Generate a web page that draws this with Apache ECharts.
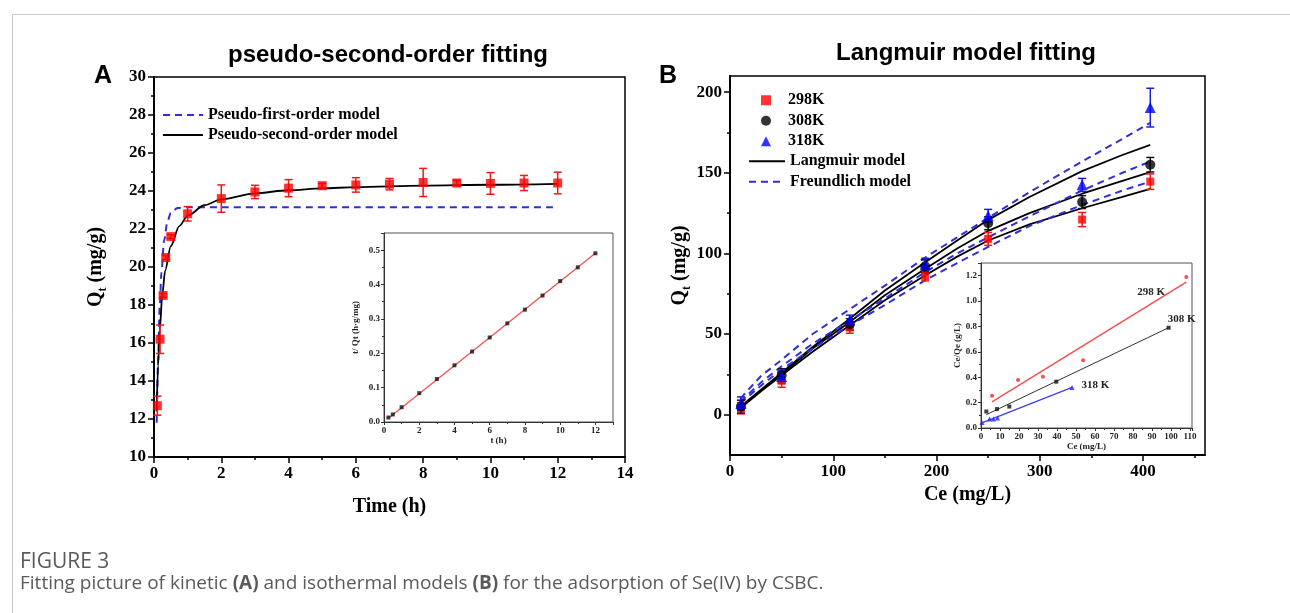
<!DOCTYPE html>
<html>
<head>
<meta charset="utf-8">
<title>Figure 3 - kinetic and isotherm fitting</title>
<script src="https://cdn.jsdelivr.net/npm/echarts@6/dist/echarts.min.js"></script>
<style>
  html, body { margin: 0; padding: 0; background: #fff; }
  #chart { width: 1290px; height: 613px; }
</style>
</head>
<body>
<div id="chart"></div>
<script>
// ---------- panel A : kinetics ----------
var timeA = [0.1, 0.18, 0.27, 0.35, 0.5, 1, 2, 3, 4, 5, 6, 7, 8, 9, 10, 11, 12];
var qtA = [12.7, 16.2, 18.5, 20.5, 21.6, 22.8, 23.6, 23.95, 24.15, 24.28, 24.32, 24.36, 24.45, 24.42, 24.4, 24.42, 24.42];
var errA = [0.5, 0.75, 0.1, 0.1, 0.1, 0.38, 0.72, 0.35, 0.45, 0.12, 0.38, 0.3, 0.74, 0.15, 0.57, 0.4, 0.57];

// fitted curves
var pfoT = [0.08, 0.12, 0.17, 0.22, 0.3, 0.4, 0.5, 0.7, 1, 2, 4, 6, 8, 10, 12];
var pfoQ = [11.8, 15.0, 17.9, 19.7, 21.4, 22.4, 22.85, 23.1, 23.15, 23.15, 23.15, 23.15, 23.15, 23.15, 23.15];
var psoT = [0.08, 0.12, 0.17, 0.25, 0.33, 0.5, 0.75, 1, 1.5, 2, 3, 4, 5, 6, 8, 10, 12];
var psoQ = [12.4, 14.8, 16.7, 18.6, 19.8, 21.1, 22.15, 22.7, 23.25, 23.56, 23.88, 24.04, 24.14, 24.2, 24.28, 24.33, 24.38];

// inset A : t/Qt vs t
var tInset = [0.25, 0.5, 1, 2, 3, 4, 5, 6, 7, 8, 9, 10, 11, 12];
var tOverQ = [0.013, 0.022, 0.043, 0.084, 0.125, 0.165, 0.205, 0.246, 0.287, 0.327, 0.368, 0.41, 0.45, 0.491];
var tFitX = [0.25, 12];
var tFitY = [0.011, 0.491];

// ---------- panel B : isotherms ----------
var ceB = [10.6, 50, 116, 189, 250, 341, 407];
var q298 = [4, 21, 54, 86, 109, 121, 144.5];
var q308 = [5, 24.5, 56, 92, 118.7, 131.8, 155];
var q318 = [7, 23.6, 58.7, 93, 123.3, 142.5, 190.4];
var e298 = [3.5, 4, 3.5, 3, 4, 4.4, 4.8];
var e308 = [4, 4, 3.5, 4, 4, 4, 4.5];
var e318 = [4, 4, 3, 4, 4, 4, 12];

var fitCe = [10, 30, 50, 80, 115, 150, 188, 220, 250, 290, 341, 380, 407];
var lang298 = [4, 14.5, 24.5, 39, 55, 71, 86, 98, 108, 118, 128, 135, 140];
var lang308 = [4.5, 15, 25, 41, 57, 74, 90, 103, 114, 125, 137, 145, 150.4];
var lang318 = [5, 15.5, 26, 42, 59, 77, 94, 108, 120.8, 135, 151, 161, 167.3];
var freu298 = [7, 18, 28, 41, 55, 68, 83, 94, 104, 117, 130, 139, 144.5];
var freu308 = [8, 20, 30, 44, 58, 72, 88, 100, 110, 123, 139, 150, 157];
var freu318 = [10, 24, 34, 50, 65, 80, 97, 110, 122, 138, 157, 171, 181];

// inset B : Ce/Qe vs Ce
var inCe298 = [5.8, 19.5, 32.6, 53.7, 108];
var inR298 = [0.255, 0.378, 0.404, 0.534, 1.19];
var inCe308 = [2.8, 8.4, 14.9, 39.6, 98.7];
var inR308 = [0.13, 0.149, 0.169, 0.365, 0.79];
var inCe318 = [0.5, 4.5, 6.6, 8.7, 47.9];
var inR318 = [0.044, 0.07, 0.07, 0.078, 0.32];
var inFit298 = [[5.8, 0.205], [108, 1.15]];
var inFit308 = [[2.8, 0.105], [98.7, 0.79]];
var inFit318 = [[0.5, 0.04], [47.9, 0.32]];

var SERIF = '"Liberation Serif", "Times New Roman", serif';
var SANS = '"Liberation Sans", Arial, sans-serif';
var BLUE = '#2f2fd8';

function pairs(xs, ys) {
  return xs.map(function (x, i) { return [x, ys[i]]; });
}
function triples(xs, ys, es) {
  return xs.map(function (x, i) { return [x, ys[i], es[i]]; });
}

// vertical error bar with caps
function errorBars(color, cap, lw) {
  return function (params, api) {
    var x = api.value(0), y = api.value(1), e = api.value(2);
    var hi = api.coord([x, y + e]);
    var lo = api.coord([x, y - e]);
    var st = { stroke: color, lineWidth: lw };
    return {
      type: 'group',
      children: [
        { type: 'line', shape: { x1: hi[0], y1: hi[1], x2: lo[0], y2: lo[1] }, style: st },
        { type: 'line', shape: { x1: hi[0] - cap, y1: hi[1], x2: hi[0] + cap, y2: hi[1] }, style: st },
        { type: 'line', shape: { x1: lo[0] - cap, y1: lo[1], x2: lo[0] + cap, y2: lo[1] }, style: st }
      ]
    };
  };
}

function mainAxis(o) {
  var a = {
    type: 'value',
    splitLine: { show: false },
    axisLine: { show: true, onZero: false, lineStyle: { color: '#000', width: 2 } },
    axisTick: { show: true, inside: false, length: 6, lineStyle: { color: '#000', width: 1.5 } },
    axisLabel: { fontFamily: SERIF, fontWeight: 'bold', fontSize: 17, color: '#000', margin: 8 },
    nameLocation: 'middle',
    nameTextStyle: { fontFamily: SERIF, fontWeight: 'bold', fontSize: 20, color: '#000' }
  };
  return Object.assign(a, o);
}

function insetAxis(o) {
  var a = {
    type: 'value',
    splitLine: { show: false },
    axisLine: { show: true, onZero: false, lineStyle: { color: '#333', width: 1 } },
    axisTick: { show: true, inside: false, length: 3, lineStyle: { color: '#333', width: 1 } },
    minorTick: { show: true, splitNumber: 2, length: 2, lineStyle: { color: '#333', width: 1 } },
    axisLabel: { fontFamily: SERIF, fontWeight: 'bold', fontSize: 9, color: '#222', margin: 4, showMaxLabel: false },
    nameLocation: 'middle',
    nameTextStyle: { fontFamily: SERIF, fontWeight: 'bold', fontSize: 9, color: '#222' }
  };
  return Object.assign(a, o);
}

// minor-tick-only axis (for axes whose range is not a multiple of the step)
function tickAxis(o) {
  var a = {
    type: 'value',
    splitLine: { show: false },
    axisLine: { show: false, onZero: false },
    axisLabel: { show: false }
  };
  return Object.assign(a, o);
}

var chart = echarts.init(document.getElementById('chart'));

var lineLegendStyle = { color: 'rgba(0,0,0,0)', opacity: 0, borderWidth: 0 };

var option = {
  backgroundColor: '#fff',
  animation: false,
  grid: [
    { left: 154, top: 77, width: 471, height: 380, show: true, borderColor: '#000', borderWidth: 1.5, backgroundColor: '#fff' },
    { left: 384, top: 233, width: 229, height: 189, show: true, borderColor: '#555', borderWidth: 1, backgroundColor: '#fff', z: 5 },
    { left: 730, top: 76, width: 475, height: 379, show: true, borderColor: '#000', borderWidth: 1.5, backgroundColor: '#fff' },
    { left: 981, top: 263, width: 211, height: 165, show: true, borderColor: '#555', borderWidth: 1, backgroundColor: '#fff', z: 5 }
  ],
  xAxis: [
    mainAxis({ gridIndex: 0, min: 0, max: 14, interval: 2, name: 'Time (h)', nameGap: 40,
      minorTick: { show: true, splitNumber: 2, length: 3, lineStyle: { color: '#000', width: 1.5 } } }),
    insetAxis({ gridIndex: 1, min: 0, max: 13, interval: 2, name: 't (h)', nameGap: 13, z: 6 }),
    mainAxis({ gridIndex: 2, min: 0, max: 460, name: 'Ce (mg/L)', nameGap: 24,
      axisLabel: { fontFamily: SERIF, fontWeight: 'bold', fontSize: 17, color: '#000', margin: 8, customValues: [0, 100, 200, 300, 400] },
      axisTick: { show: true, length: 6, lineStyle: { color: '#000', width: 1.5 }, customValues: [0, 100, 200, 300, 400] } }),
    tickAxis({ gridIndex: 2, min: 0, max: 460, position: 'bottom',
      axisTick: { show: true, length: 3, lineStyle: { color: '#000', width: 1.5 }, customValues: [50, 150, 250, 350, 450] } }),
    insetAxis({ gridIndex: 3, min: 0, max: 111, interval: 10, name: 'Ce (mg/L)', nameGap: 13, z: 6 })
  ],
  yAxis: [
    mainAxis({ gridIndex: 0, min: 10, max: 30, interval: 2, nameGap: 48,
      name: '{q|Q}{s|t}{q| (mg/g)}',
      nameTextStyle: { fontFamily: SERIF, fontWeight: 'bold', fontSize: 20, color: '#000',
        rich: { q: { fontFamily: SERIF, fontWeight: 'bold', fontSize: 20 }, s: { fontFamily: SERIF, fontWeight: 'bold', fontSize: 12, verticalAlign: 'bottom', padding: [0, 0, -3, 0] } } },
      minorTick: { show: true, splitNumber: 2, length: 3, lineStyle: { color: '#000', width: 1.5 } } }),
    insetAxis({ gridIndex: 1, min: 0, max: 0.55, interval: 0.1, name: 't/ Qt (h·g/mg)', nameGap: 24, z: 6,
      axisLabel: { fontFamily: SERIF, fontWeight: 'bold', fontSize: 9, color: '#222', margin: 4, showMaxLabel: false,
        formatter: function (v) { return v.toFixed(1); } } }),
    mainAxis({ gridIndex: 2, min: -25, max: 210, nameGap: 37,
      name: '{q|Q}{s|t}{q| (mg/g)}',
      nameTextStyle: { fontFamily: SERIF, fontWeight: 'bold', fontSize: 20, color: '#000',
        rich: { q: { fontFamily: SERIF, fontWeight: 'bold', fontSize: 20 }, s: { fontFamily: SERIF, fontWeight: 'bold', fontSize: 12, verticalAlign: 'bottom', padding: [0, 0, -3, 0] } } },
      axisLabel: { fontFamily: SERIF, fontWeight: 'bold', fontSize: 17, color: '#000', margin: 8, customValues: [0, 50, 100, 150, 200] },
      axisTick: { show: true, length: 6, lineStyle: { color: '#000', width: 1.5 }, customValues: [0, 50, 100, 150, 200] } }),
    tickAxis({ gridIndex: 2, min: -25, max: 210, position: 'left',
      axisTick: { show: true, length: 3, lineStyle: { color: '#000', width: 1.5 }, customValues: [25, 75, 125, 175] } }),
    insetAxis({ gridIndex: 3, min: 0, max: 1.3, interval: 0.2, name: 'Ce/Qe (g/L)', nameGap: 19, z: 6,
      axisLabel: { fontFamily: SERIF, fontWeight: 'bold', fontSize: 9, color: '#222', margin: 4, showMaxLabel: false,
        formatter: function (v) { return v.toFixed(1); } } })
  ],
  legend: [
    {
      left: 157, top: 100, orient: 'vertical', itemWidth: 40, itemHeight: 12, itemGap: 0,
      data: ['Pseudo-first-order model', 'Pseudo-second-order model'],
      itemStyle: lineLegendStyle,
      textStyle: { fontFamily: SERIF, fontWeight: 'bold', fontSize: 16, color: '#000', lineHeight: 20 }
    },
    {
      left: 756, top: 85, orient: 'vertical', itemWidth: 10, itemHeight: 10, itemGap: 0,
      data: ['298K', '308K', '318K'],
      formatter: function (n) { return '{s|}' + n; },
      textStyle: { fontFamily: SERIF, fontWeight: 'bold', fontSize: 16, color: '#000', lineHeight: 20.5,
        rich: { s: { width: 12 } } }
    },
    {
      left: 743, top: 146, orient: 'vertical', itemWidth: 36, itemHeight: 10, itemGap: 0,
      data: ['Langmuir model', 'Freundlich model'],
      itemStyle: lineLegendStyle,
      textStyle: { fontFamily: SERIF, fontWeight: 'bold', fontSize: 16, color: '#000', lineHeight: 20.5 }
    }
  ],
  series: [
    // ---- A main ----
    { name: 'Pseudo-first-order model', type: 'line', xAxisIndex: 0, yAxisIndex: 0, data: pairs(pfoT, pfoQ),
      smooth: 0.3, smoothMonotone: 'x', symbol: 'none', lineStyle: { color: BLUE, width: 2, type: [7, 5] }, itemStyle: { color: BLUE }, z: 2 },
    { name: 'Pseudo-second-order model', type: 'line', xAxisIndex: 0, yAxisIndex: 0, data: pairs(psoT, psoQ),
      smooth: 0.3, smoothMonotone: 'x', symbol: 'none', lineStyle: { color: '#000', width: 1.8 }, itemStyle: { color: '#000' }, z: 3 },
    { name: 'errA', type: 'custom', xAxisIndex: 0, yAxisIndex: 0, data: triples(timeA, qtA, errA),
      encode: { x: 0, y: 1 }, renderItem: errorBars('#f01818', 4, 1.5), z: 4 },
    { name: 'Qt', type: 'scatter', xAxisIndex: 0, yAxisIndex: 0, data: pairs(timeA, qtA),
      symbol: 'rect', symbolSize: 9, itemStyle: { color: '#ff0000' }, z: 5 },

    // ---- A inset ----
    { name: 'tFit', type: 'line', xAxisIndex: 1, yAxisIndex: 1, data: pairs(tFitX, tFitY),
      symbol: 'none', lineStyle: { color: '#f25050', width: 1.3 }, z: 6 },
    { name: 't/Qt', type: 'scatter', xAxisIndex: 1, yAxisIndex: 1, data: pairs(tInset, tOverQ),
      symbol: 'rect', symbolSize: 4, itemStyle: { color: '#111' }, z: 7 },

    // ---- B main ----
    { name: 'Langmuir model', type: 'line', xAxisIndex: 2, yAxisIndex: 2, data: pairs(fitCe, lang298),
      symbol: 'none', lineStyle: { color: '#000', width: 1.8 }, itemStyle: { color: '#000' }, z: 2 },
    { name: 'Langmuir model', type: 'line', xAxisIndex: 2, yAxisIndex: 2, data: pairs(fitCe, lang308),
      symbol: 'none', lineStyle: { color: '#000', width: 1.8 }, itemStyle: { color: '#000' }, z: 2 },
    { name: 'Langmuir model', type: 'line', xAxisIndex: 2, yAxisIndex: 2, data: pairs(fitCe, lang318),
      symbol: 'none', lineStyle: { color: '#000', width: 1.8 }, itemStyle: { color: '#000' }, z: 2 },
    { name: 'Freundlich model', type: 'line', xAxisIndex: 2, yAxisIndex: 2, data: pairs(fitCe, freu298),
      symbol: 'none', lineStyle: { color: BLUE, width: 2, type: [7, 5] }, itemStyle: { color: BLUE }, z: 2 },
    { name: 'Freundlich model', type: 'line', xAxisIndex: 2, yAxisIndex: 2, data: pairs(fitCe, freu308),
      symbol: 'none', lineStyle: { color: BLUE, width: 2, type: [7, 5] }, itemStyle: { color: BLUE }, z: 2 },
    { name: 'Freundlich model', type: 'line', xAxisIndex: 2, yAxisIndex: 2, data: pairs(fitCe, freu318),
      symbol: 'none', lineStyle: { color: BLUE, width: 2, type: [7, 5] }, itemStyle: { color: BLUE }, z: 2 },
    { name: 'err298', type: 'custom', xAxisIndex: 2, yAxisIndex: 2, data: triples(ceB, q298, e298),
      encode: { x: 0, y: 1 }, renderItem: errorBars('#f01818', 4, 1.5), z: 3 },
    { name: 'err308', type: 'custom', xAxisIndex: 2, yAxisIndex: 2, data: triples(ceB, q308, e308),
      encode: { x: 0, y: 1 }, renderItem: errorBars('#111', 4, 1.5), z: 3 },
    { name: 'err318', type: 'custom', xAxisIndex: 2, yAxisIndex: 2, data: triples(ceB, q318, e318),
      encode: { x: 0, y: 1 }, renderItem: errorBars('#1c1ce0', 4, 1.5), z: 3 },
    { name: '298K', type: 'scatter', xAxisIndex: 2, yAxisIndex: 2, data: pairs(ceB, q298),
      symbol: 'rect', symbolSize: 8, itemStyle: { color: '#ff0000' }, z: 4 },
    { name: '308K', type: 'scatter', xAxisIndex: 2, yAxisIndex: 2, data: pairs(ceB, q308),
      symbol: 'circle', symbolSize: 10, itemStyle: { color: '#000' }, z: 4 },
    { name: '318K', type: 'scatter', xAxisIndex: 2, yAxisIndex: 2, data: pairs(ceB, q318),
      symbol: 'triangle', symbolSize: 11, itemStyle: { color: '#0000ff' }, z: 4 },

    // ---- B inset ----
    { name: 'fit298', type: 'line', xAxisIndex: 4, yAxisIndex: 4, data: inFit298,
      symbol: 'none', lineStyle: { color: '#f45050', width: 1.5 }, z: 6,
      markPoint: { symbol: 'circle', symbolSize: 0, data: [{ coord: [89.5, 1.07] }],
        label: { show: true, formatter: '298 K', fontFamily: SERIF, fontWeight: 'bold', fontSize: 11, color: '#222' } } },
    { name: 'fit308', type: 'line', xAxisIndex: 4, yAxisIndex: 4, data: inFit308,
      symbol: 'none', lineStyle: { color: '#333', width: 1 }, z: 6,
      markPoint: { symbol: 'circle', symbolSize: 0, data: [{ coord: [105.5, 0.855] }],
        label: { show: true, formatter: '308 K', fontFamily: SERIF, fontWeight: 'bold', fontSize: 11, color: '#222' } } },
    { name: 'fit318', type: 'line', xAxisIndex: 4, yAxisIndex: 4, data: inFit318,
      symbol: 'none', lineStyle: { color: '#3c3cf0', width: 1.2 }, z: 6,
      markPoint: { symbol: 'circle', symbolSize: 0, data: [{ coord: [60.2, 0.34] }],
        label: { show: true, formatter: '318 K', fontFamily: SERIF, fontWeight: 'bold', fontSize: 11, color: '#222' } } },
    { name: 'in298', type: 'scatter', xAxisIndex: 4, yAxisIndex: 4, data: pairs(inCe298, inR298),
      symbol: 'circle', symbolSize: 4, itemStyle: { color: '#ff2020' }, z: 7 },
    { name: 'in308', type: 'scatter', xAxisIndex: 4, yAxisIndex: 4, data: pairs(inCe308, inR308),
      symbol: 'rect', symbolSize: 4, itemStyle: { color: '#111' }, z: 7 },
    { name: 'in318', type: 'scatter', xAxisIndex: 4, yAxisIndex: 4, data: pairs(inCe318, inR318),
      symbol: 'triangle', symbolSize: 5, itemStyle: { color: '#2020ff' }, z: 7 }
  ],
  graphic: [
    { type: 'rect', left: 10, top: 12, shape: { width: 1300, height: 700 }, style: { fill: 'none', stroke: '#c8c8c8', lineWidth: 1 }, silent: true },
    { type: 'text', x: 388, y: 55, style: { text: 'pseudo-second-order fitting', font: 'bold 24px ' + SANS, fill: '#000', align: 'center', verticalAlign: 'middle' } },
    { type: 'text', x: 966, y: 53, style: { text: 'Langmuir model fitting', font: 'bold 24px ' + SANS, fill: '#000', align: 'center', verticalAlign: 'middle' } },
    { type: 'text', x: 103, y: 76, style: { text: 'A', font: 'bold 25px ' + SANS, fill: '#000', align: 'center', verticalAlign: 'middle' } },
    { type: 'text', x: 668, y: 76, style: { text: 'B', font: 'bold 25px ' + SANS, fill: '#000', align: 'center', verticalAlign: 'middle' } },
    { type: 'text', x: 20, y: 562, style: { text: 'FIGURE 3', font: '21px "Open Sans", sans-serif', fill: '#5a5a5a', verticalAlign: 'middle' } },
    { type: 'text', x: 20, y: 584, style: {
      text: '{n|Fitting picture of kinetic }{b|(A)}{n| and isothermal models }{b|(B)}{n| for the adsorption of Se(IV) by CSBC.}',
      verticalAlign: 'middle',
      rich: {
        n: { fontFamily: '"Open Sans", sans-serif', fontSize: 19, fill: '#5a5a5a', color: '#5a5a5a' },
        b: { fontFamily: '"Open Sans", sans-serif', fontSize: 19, fontWeight: 'bold', fill: '#5a5a5a', color: '#5a5a5a' }
      } } }
  ]
};

chart.setOption(option);
</script>
</body>
</html>
